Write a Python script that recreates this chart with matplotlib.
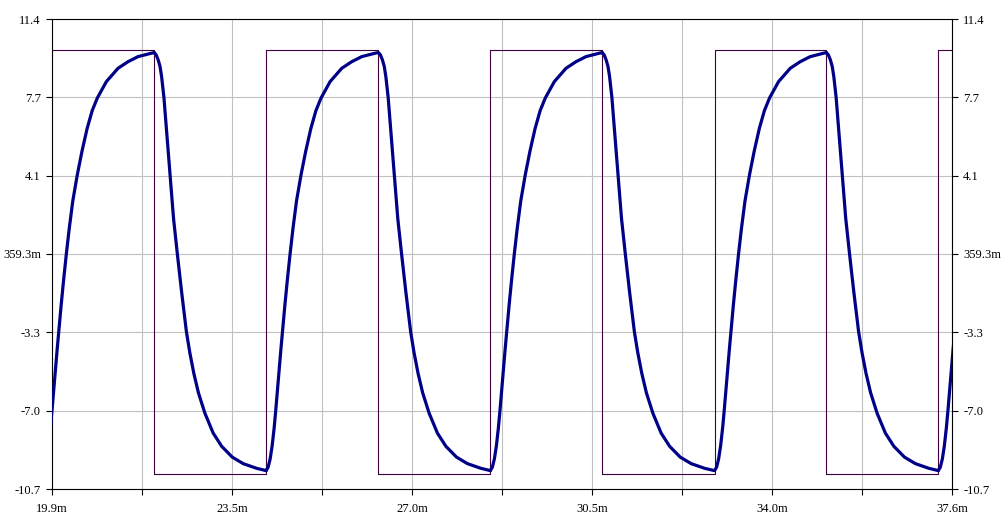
import numpy as np
import matplotlib.pyplot as plt

# axis window (time in ms, volts)
x_min, x_max = 19.9, 37.6
y_min, y_max = -10.726, 11.444

x_labels = ["19.9m", "", "23.5m", "", "27.0m", "", "30.5m", "", "34.0m", "", "37.6m"]
y_labels = ["-10.7", "-7.0", "-3.3", "359.3m", "4.1", "7.7", "11.4"]

# square wave drive
sq_t = [19.9, 21.91, 24.11, 26.32, 28.52, 30.72, 32.93, 35.13, 37.33, 37.6]
sq_v = [10, -10, 10, -10, 10, -10, 10, -10, 10, 10]

# response after a rising edge (ms since edge, volts)
rise_dt = [0.000, 0.040, 0.080, 0.120, 0.160, 0.191, 0.250, 0.290, 0.323, 0.370,
           0.420, 0.472, 0.530, 0.600, 0.688, 0.780, 0.880, 0.980, 1.082, 1.259,
           1.489, 1.685, 1.882, 2.144, 2.203]
rise_v = [-9.86, -9.70, -9.31, -8.68, -7.82, -7.00, -5.30, -4.18, -3.30, -2.05,
          -0.83, 0.36, 1.58, 2.88, 4.10, 5.21, 6.27, 7.12, 7.72, 8.49,
          9.12, 9.43, 9.67, 9.83, 9.86]

# response after a falling edge
fall_dt = [0.000, 0.039, 0.079, 0.115, 0.146, 0.191, 0.250, 0.309, 0.380, 0.456,
           0.540, 0.633, 0.700, 0.780, 0.870, 0.997, 1.160, 1.326, 1.534, 1.750,
           2.014, 2.203]
fall_v = [9.86, 9.75, 9.51, 9.20, 8.72, 7.75, 5.95, 4.10, 2.04, 0.34,
          -1.45, -3.30, -4.29, -5.28, -6.19, -7.15, -8.09, -8.71, -9.22, -9.53,
          -9.75, -9.86]

# switching edges (first one lies just left of the window)
edge_t = [19.71, 21.91, 24.11, 26.32, 28.52, 30.72, 32.93, 35.13, 37.33]
edge_kind = ["rise", "fall", "rise", "fall", "rise", "fall", "rise", "fall", "rise"]

resp_t, resp_v = [], []
for t0, kind in zip(edge_t, edge_kind):
    if kind == "rise":
        dts, vs = rise_dt, rise_v
    else:
        dts, vs = fall_dt, fall_v
    resp_t.extend([t0 + d for d in dts])
    resp_v.extend(vs)

plt.rcParams['font.family'] = ['Liberation Serif', 'DejaVu Serif']

fig = plt.figure(figsize=(10.04, 5.21), dpi=100, facecolor="white")
ax = fig.add_axes([52 / 1004, (521 - 489) / 521, 900 / 1004, 470 / 521])

ax.step(sq_t, sq_v, where="post", color="#400040", lw=0.8, zorder=2)
ax.plot(resp_t, resp_v, color="#000088", lw=2.3, zorder=3)

ax.set_xlim(x_min, x_max)
ax.set_ylim(y_min, y_max)

xt = np.linspace(x_min, x_max, len(x_labels))
yt = np.linspace(y_min, y_max, len(y_labels))
ax.set_xticks(xt)
ax.set_xticklabels(x_labels)
ax.set_yticks(yt)
ax.set_yticklabels(y_labels)

ax.grid(True, color="#c0c0c0", lw=0.8, zorder=0)
ax.set_axisbelow(True)

ax.tick_params(axis="both", direction="out", length=4, width=0.8, color="black",
               labelsize=9, labelcolor="black")
ax.tick_params(axis="x", pad=6)
ax.tick_params(axis="y", left=True, right=True, labelleft=True, labelright=True, pad=4)

for sp in ax.spines.values():
    sp.set_color("black")
    sp.set_linewidth(0.8)

fig.savefig("out.png", dpi=100, facecolor="white")
